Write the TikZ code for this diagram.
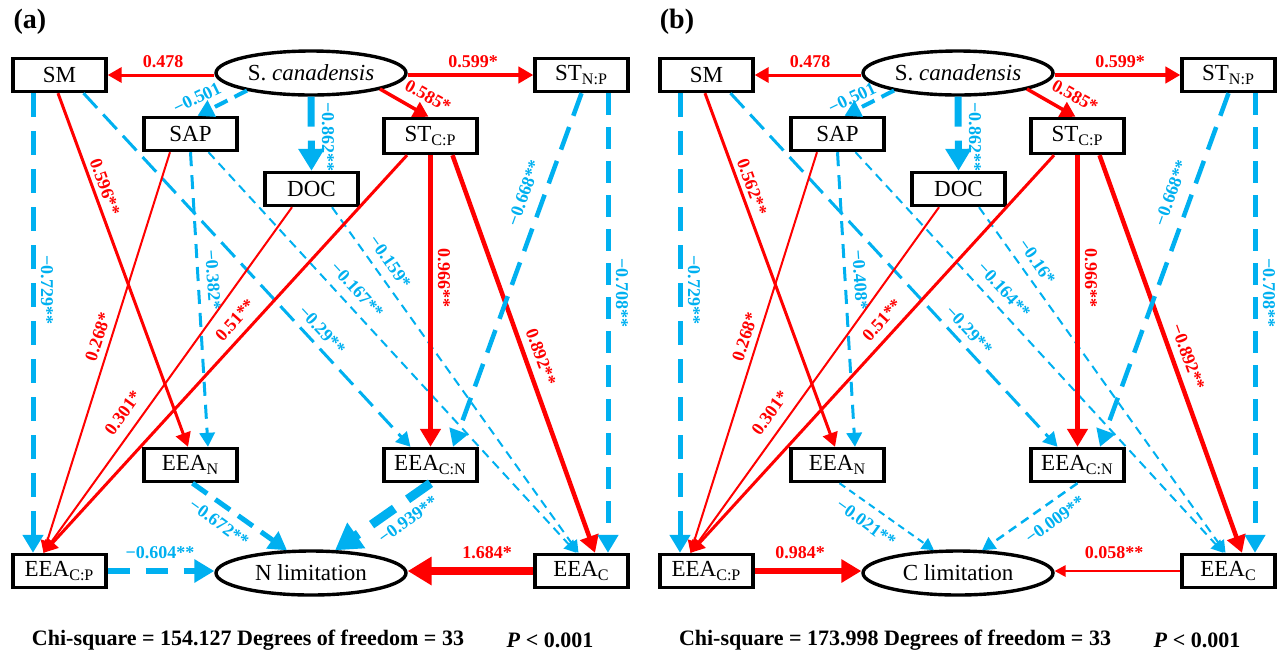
\documentclass[tikz,border=0pt]{standalone}
\usepackage{fontspec}
\setmainfont{Liberation Serif}
\usetikzlibrary{arrows.meta,shapes.geometric,calc}
\definecolor{cred}{RGB}{255,0,0}
\definecolor{cblue}{RGB}{0,176,240}
\pgfdeclarelayer{background}
\pgfsetlayers{background,main}
\tikzset{
  box/.style={draw=black, line width=1.7pt, fill=white, minimum width=46.5pt, minimum height=16.5pt, inner sep=0pt, font=\fontsize{11.5}{12}\selectfont},
  oval/.style={ellipse, draw=black, line width=1.7pt, fill=white, minimum width=95pt, minimum height=22pt, inner sep=0pt, font=\fontsize{11.5}{12}\selectfont},
  lab/.style={font=\bfseries\fontsize{9}{10}\selectfont, inner sep=0pt},
  arrtip/.style={-{Triangle[length=4pt 2, width=4pt 2.4]}},
  redln/.style={draw=cred, line width=#1, arrtip},
  blueln/.style={draw=cblue, line width=#1, arrtip},
  bottomtext/.style={font=\bfseries\fontsize{11}{12}\selectfont, inner sep=0pt},
  panellabel/.style={font=\bfseries\fontsize{14}{15}\selectfont, inner sep=0pt}
}
\newcommand\drawpanel[1]{%
  % nodes
  \node[box] (#1SM) at (59.5,75) {SM};
  \node[oval] (#1Sc) at (311,73) {S. \textit{canadensis}};
  \node[box] (#1STNP) at (581.5,75) {ST\textsubscript{N:P}};
  \node[box] (#1SAP) at (190.5,134) {SAP};
  \node[box, minimum height=17.5pt] (#1STCP) at (430.5,136) {ST\textsubscript{C:P}};
  \node[box] (#1DOC) at (311.5,189) {DOC};
  \node[box] (#1EEAN) at (190.5,465) {EEA\textsubscript{N}};
  \node[box] (#1EEACN) at (430.5,465) {EEA\textsubscript{C:N}};
  \node[box] (#1EEACP) at (59.5,571) {EEA\textsubscript{C:P}};
  \node[oval] (#1Lim) at (311,573) {\Llim\ limitation};
  \node[box] (#1EEAC) at (581.5,571) {EEA\textsubscript{C}};
  % edges from S. canadensis
  \draw[redln=1.5pt] (#1Sc.west |- #1SM.east) -- (#1SM.east);
  \node[lab, text=cred] (#1l1) at (163,62) {0.478};
  \draw[redln=1.75pt] (#1Sc.east |- #1STNP.west) -- (#1STNP.west);
  \node[lab, text=cred] (#1l2) at (473,62) {0.599*};
  \draw[blueln=2pt, dash pattern=on 7pt off 4pt] ($(#1Sc)+(-64,17.5)$) -- ($(#1SAP.north)+(7,0)$);
  \begin{pgfonlayer}{background}
  \node[lab, text=cblue, rotate=26] (#1l3) at (197+\Lx,98) {−0.501};
  \end{pgfonlayer}
  \draw[blueln=3.5pt, dash pattern=on 15pt off 7pt] (#1Sc.south) -- (#1DOC.north);
  \node[lab, text=cblue, rotate=-90] (#1l4) at (328,137) {−0.862**};
  \draw[redln=1.75pt] ($(#1Sc)+(69,16)$) -- ($(#1STCP.north)+(-2,0)$);
  \node[lab, text=cred, rotate=-29] (#1l5) at (428,96) {0.585*};
  % from SM
  \draw[blueln=2.5pt, dash pattern=on 12pt off 7pt] ($(#1SM.south)+(-26.5,0)$) -- ($(#1EEACP.north)+(-26.5,0)$);
  \node[lab, text=cblue, rotate=-90] (#1l6) at (47,290) {−0.729**};
  \draw[redln=1.5pt] ($(#1SM.south)+(-1.5,0)$) -- ($(#1EEAN.north)+(-2.5,0)$);
  \node[lab, text=cred, rotate=-70] (#1l7) at (105,187) {\Lsmn};
  \draw[blueln=1.5pt, dash pattern=on 10pt off 4.5pt] ($(#1SM.south)+(24,0)$) -- ($(#1EEACN.north)+(-20,0)$);
  \node[lab, text=cblue, rotate=-47] (#1l8) at (322,330) {−0.29**};
  % from SAP
  \draw[redln=1pt] ($(#1SAP.south)+(-20.5,0)$) -- ($(#1EEACP.north)+(-16,0)$);
  \node[lab, text=cred, rotate=72] (#1l9) at (98,337) {0.268*};
  \draw[blueln=1.5pt, dash pattern=on 7pt off 4.5pt] (#1SAP.south) -- ($(#1EEAN.north)+(17.5,0)$);
  \node[lab, text=cblue, rotate=-86] (#1l10) at (213,280) {\Lsapn};
  \draw[blueln=1pt, dash pattern=on 4.5pt off 3pt] ($(#1SAP.south)+(18,0)$) -- ($(#1EEAC.north)+(-5,0)$);
  \node[lab, text=cblue, rotate=-47.5] (#1l11) at (357,290) {\Lsapc};
  % from DOC
  \draw[redln=1pt] ($(#1DOC.south)+(-19.5,0)$) -- ($(#1EEACP.north)+(-16,0)$);
  \node[lab, text=cred, rotate=54] (#1l12) at (123,413) {0.301*};
  \draw[blueln=1pt, dash pattern=on 4.5pt off 3pt] ($(#1DOC.south)+(20.5,0)$) -- ($(#1EEAC.north)+(-3,0)$);
  \node[lab, text=cblue, rotate=-55] (#1l13) at (390,262) {\Ldocc};
  % from ST C:P
  \draw[redln=1.5pt] ($(#1STCP.south)+(-23.5,0)$) -- ($(#1EEACP.north)+(-16,0)$);
  \node[lab, text=cred, rotate=48] (#1l14) at (235,320) {0.51**};
  \draw[redln=2.5pt] (#1STCP.south) -- (#1EEACN.north);
  \node[lab, text=cred, rotate=-90] (#1l15) at (444,278) {0.966**};
  \draw[redln=2.25pt] ($(#1STCP.south)+(22,0)$) -- ($(#1EEAC.north)+(13.5,0)$);
  \node[lab, text=cred, rotate=-70] (#1l16) at (541,357) {\Lstcpc};
  % from ST N:P
  \draw[blueln=2.25pt, dash pattern=on 12pt off 6pt] (#1STNP.south) -- ($(#1EEACN.north)+(22.5,0)$);
  \node[lab, text=cblue, rotate=70] (#1l17) at (524,193) {−0.668**};
  \draw[blueln=2.5pt, dash pattern=on 11pt off 6pt] ($(#1STNP.south)+(26.5,0)$) -- ($(#1EEAC.north)+(26.5,0)$);
  \node[lab, text=cblue, rotate=-90] (#1l18) at (622,293) {−0.708**};
  % to limitation
  \draw[eA] ($(#1EEAN.south)+(2,0)$) -- ($(#1Lim.north)+(-24,1)$);
  \node[lab, text=cblue, rotate=-36] (#1l19) at (219,523) {\Lna};
  \draw[eB] (#1EEACN.south) -- ($(#1Lim.north)+(24,1)$);
  \node[lab, text=cblue, rotate=36] (#1l20) at (408,520) {\Lnb};
  \draw[eC] (#1EEACP.east) -- (#1Lim.west |- #1EEACP.east);
  \node[lab, text=\LcCol] (#1l21) at (\Lcx,553) {\Lnc};
  \draw[eD] (#1EEAC.west) -- (#1Lim.east |- #1EEAC.west);
  \node[lab, text=cred] (#1l22) at (\Ldx,553) {\Lnd};
  % bottom text
  \node[bottomtext] (#1chi) at (248,640) {Chi-square = \Lchi\ Degrees of freedom = 33};
  \node[bottomtext] (#1p) at (550,640) {\textit{P} < 0.001};
}
\begin{document}
\begin{tikzpicture}[x=0.5pt, y=-0.5pt]
\useasboundingbox (0,0) rectangle (1278,655);
% panel (a)
\node[panellabel] (lbla) at (30,22) {(a)};
\def\Lx{0}
\def\Llim{N}
\def\Lsmn{0.596**}
\def\Lsapn{−0.382*}
\def\Lsapc{−0.167**}
\def\Ldocc{−0.159*}
\def\Lstcpc{0.892**}
\def\Lna{−0.672**}
\def\Lnb{−0.939**}
\def\Lnc{−0.604**}
\def\LcCol{cblue}
\def\Lcx{160}
\def\Lnd{1.684*}
\def\Ldx{487}
\def\Lchi{154.127}
\tikzset{
  eA/.style={blueln=2.5pt, dash pattern=on 9pt off 5pt},
  eB/.style={blueln=4.5pt, dash pattern=on 14pt off 8pt},
  eC/.style={blueln=3pt, dash pattern=on 11pt off 8pt},
  eD/.style={redln=4pt}
}
\drawpanel{a}
% panel (b)
\begin{scope}[shift={(647,0)}]
\node[panellabel] (lblb) at (30,22) {(b)};
\def\Lx{8}
\def\Llim{C}
\def\Lsmn{0.562**}
\def\Lsapn{−0.408*}
\def\Lsapc{−0.164**}
\def\Ldocc{−0.16*}
\def\Lstcpc{−0.892**}
\def\Lna{−0.021**}
\def\Lnb{−0.009**}
\def\Lnc{0.984*}
\def\LcCol{cred}
\def\Lcx{153}
\def\Lnd{0.058**}
\def\Ldx{467}
\def\Lchi{173.998}
\tikzset{
  eA/.style={blueln=1pt, dash pattern=on 3.5pt off 2.5pt},
  eB/.style={blueln=1.25pt, dash pattern=on 4.5pt off 3pt},
  eC/.style={redln=3pt},
  eD/.style={redln=0.75pt}
}
\drawpanel{b}
\end{scope}
\end{tikzpicture}
\end{document}
